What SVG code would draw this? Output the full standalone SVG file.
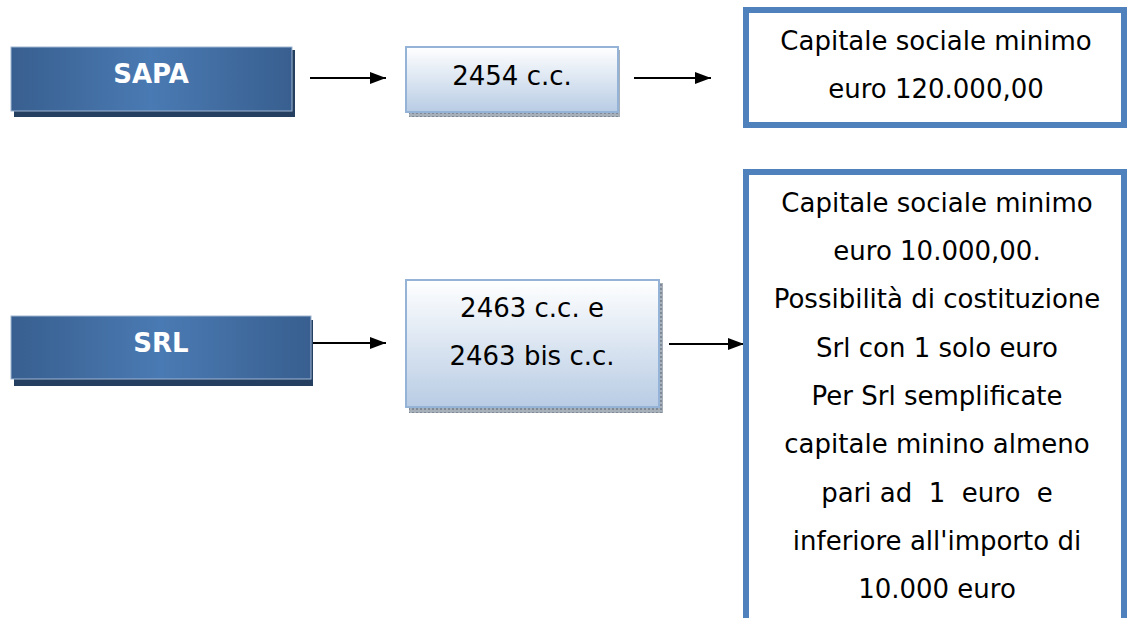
<svg xmlns="http://www.w3.org/2000/svg" width="1127" height="618" viewBox="0 0 1127 618">
<style>
.t{font-family:"DejaVu Sans",Verdana,sans-serif;font-size:26px;fill:#000;text-anchor:middle}
.b{font-family:"DejaVu Sans",Verdana,sans-serif;font-size:26px;font-weight:bold;fill:#fff;text-anchor:middle}
.conn{stroke:#000;stroke-width:2;fill:none;marker-end:url(#ah)}
.dark{fill:url(#dg);stroke:#9fb5d2;stroke-width:1}
.dsh{fill:#243f60}
.light{fill:url(#lg);stroke:#95b3d7;stroke-width:2}
.lsh{fill:url(#pat)}
.out{fill:#fff;stroke:#4f81bd;stroke-width:6}
</style>
<defs>
<linearGradient id="dg" x1="0" y1="0" x2="1" y2="0">
<stop offset="0" stop-color="#385f8f"/>
<stop offset="0.5" stop-color="#4a7ab3"/>
<stop offset="1" stop-color="#385f8f"/>
</linearGradient>
<linearGradient id="lg" x1="0" y1="0" x2="0" y2="1">
<stop offset="0" stop-color="#ffffff"/>
<stop offset="1" stop-color="#b8cce4"/>
</linearGradient>
<pattern id="pat" width="4" height="4" patternUnits="userSpaceOnUse">
<rect width="4" height="4" fill="#a7afb9"/>
<rect width="2" height="2" fill="#7f8a98"/>
</pattern>
<marker id="ah" viewBox="0 0 16 12" refX="16" refY="6" markerWidth="16" markerHeight="12" markerUnits="userSpaceOnUse" orient="auto">
<path d="M0,0 L16,6 L0,12 Z" fill="#000"/>
</marker>
</defs>
<g id="connectors">
<line class="conn" x1="310" y1="78" x2="386" y2="78"/>
<line class="conn" x1="634" y1="78" x2="711" y2="78"/>
<line class="conn" x1="311" y1="343" x2="386" y2="343"/>
<line class="conn" x1="669" y1="344" x2="744" y2="344"/>
</g>
<g id="sapa">
<rect class="dsh" x="14" y="50" width="281" height="67"/>
<rect class="dark" x="11" y="47" width="281" height="64"/>
<text class="b" x="151" y="83">SAPA</text>
</g>
<g id="srl">
<rect class="dsh" x="14" y="320" width="299" height="66"/>
<rect class="dark" x="11" y="316" width="300" height="63"/>
<text class="b" x="161" y="352">SRL</text>
</g>
<g id="art2454">
<rect class="lsh" x="409" y="50" width="211" height="67"/>
<rect class="light" x="406" y="47" width="212" height="65"/>
<text class="t" x="512" y="85">2454 c.c.</text>
</g>
<g id="art2463">
<rect class="lsh" x="409" y="283" width="254" height="130"/>
<rect class="light" x="406" y="280" width="253" height="127"/>
<text class="t" x="532" y="317">2463 c.c. e</text>
<text class="t" x="532" y="365">2463 bis c.c.</text>
</g>
<g id="cap-sapa">
<rect class="out" x="746" y="10" width="378" height="115"/>
<text class="t" x="936" y="50">Capitale sociale minimo</text>
<text class="t" x="936" y="98">euro 120.000,00</text>
</g>
<g id="cap-srl">
<rect class="out" x="746" y="172" width="378" height="460"/>
<text class="t" x="937" y="212">Capitale sociale minimo</text>
<text class="t" x="937" y="260">euro 10.000,00.</text>
<text class="t" x="937" y="308">Possibilità di costituzione</text>
<text class="t" x="937" y="357">Srl con 1 solo euro</text>
<text class="t" x="937" y="405">Per Srl semplificate</text>
<text class="t" x="937" y="453">capitale minino almeno</text>
<text class="t" x="937" y="502" xml:space="preserve">pari ad  1  euro  e</text>
<text class="t" x="937" y="550">inferiore all'importo di</text>
<text class="t" x="937" y="598">10.000 euro</text>
</g>
</svg>
